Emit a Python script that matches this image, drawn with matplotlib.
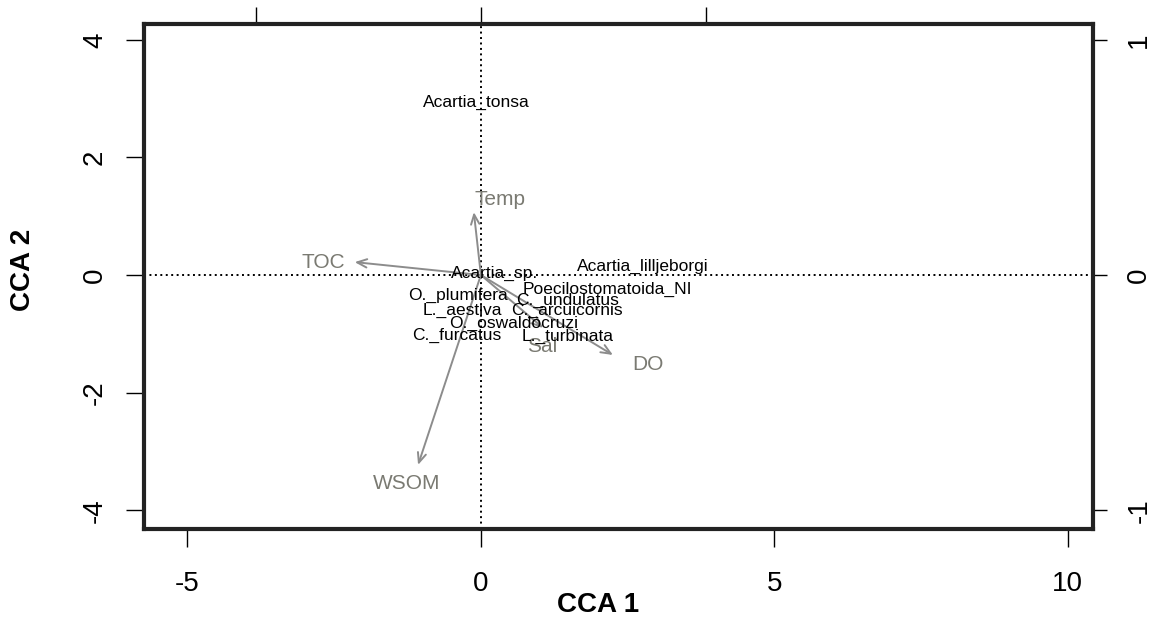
import numpy as np
import matplotlib.pyplot as plt

plt.rcParams['font.family'] = ['Liberation Sans', 'DejaVu Sans']
plt.rcParams['axes.unicode_minus'] = False

# species scores (CCA 1, CCA 2)
species = ['Acartia_tonsa', 'Acartia_sp.', 'Acartia_lilljeborgi', 'Poecilostomatoida_NI',
           'O._plumifera', 'C._undulatus', 'L._aestiva', 'C._arcuicornis',
           'O._oswaldocruzi', 'C._furcatus', 'L._turbinata']
sp_x = [-0.07, 0.24, 2.76, 2.15, -0.39, 1.47, -0.31, 1.47, 0.55, -0.41, 1.48]
sp_y = [2.94, 0.03, 0.14, -0.24, -0.34, -0.43, -0.61, -0.61, -0.82, -1.02, -1.04]

# environmental biplot arrows (already multiplied) and their label positions
env = ['TOC', 'Temp', 'WSOM', 'DO', 'Sal']
env_x = [-2.15, -0.12, -1.07, 2.25, 1.06]
env_y = [0.22, 1.07, -3.23, -1.36, -0.90]
lab_x = [-2.69, 0.32, -1.26, 2.85, 1.04]
lab_y = [0.22, 1.28, -3.54, -1.53, -1.22]

mul_top = 3.83
mul_right = 4.0

fig = plt.figure(figsize=(11.55, 6.21), dpi=100)
ax = fig.add_axes([144/1155, 1 - 529/621, (1093 - 144)/1155, (529 - 24)/621])
ax.set_xlim(-5.74, 10.43)
ax.set_ylim(-4.32, 4.27)

# origin cross
ax.axhline(0, color='black', lw=1.4, linestyle=(0, (1, 1.8)))
ax.axvline(0, color='black', lw=1.4, linestyle=(0, (1, 1.8)))

# arrows
for x, y in zip(env_x, env_y):
    ax.annotate('', xy=(x, y), xytext=(0, 0),
                arrowprops=dict(arrowstyle='->,head_length=0.7,head_width=0.3',
                                color='#8c8c8c', lw=1.4, shrinkA=0, shrinkB=0))
for name, x, y in zip(env, lab_x, lab_y):
    ax.text(x, y, name, color='#7a7a72', fontsize=15, ha='center', va='center')

for name, x, y in zip(species, sp_x, sp_y):
    ax.text(x, y, name, color='black', fontsize=12.5, ha='center', va='center')

# frame and axes
for s in ax.spines.values():
    s.set_linewidth(3)
    s.set_color('#222222')

ax.set_xticks([-5, 0, 5, 10])
ax.set_yticks([-4, -2, 0, 2, 4])
ax.tick_params(axis='x', length=13, width=1, labelsize=20, pad=17)
ax.tick_params(axis='y', length=13, width=1, labelsize=20, pad=13)
for lbl in ax.get_yticklabels():
    lbl.set_rotation(90)
    lbl.set_va('center')

top = ax.secondary_xaxis('top', functions=(lambda v: v / mul_top, lambda v: v * mul_top))
top.set_xticks([-1, 0, 1])
top.set_xticklabels([])
top.tick_params(length=12, width=1)
top.spines['top'].set_visible(False)

right = ax.secondary_yaxis('right', functions=(lambda v: v / mul_right, lambda v: v * mul_right))
right.set_yticks([-1, 0, 1])
right.tick_params(length=10, width=1, labelsize=20, pad=14)
right.spines['right'].set_visible(False)
for lbl in right.get_yticklabels():
    lbl.set_rotation(90)
    lbl.set_va('center')

fig.text(598/1155, 1 - 605/621, 'CCA 1', fontsize=20, fontweight='bold',
         ha='center', va='center')
fig.text(23/1155, 1 - 270/621, 'CCA 2', fontsize=20, fontweight='bold',
         ha='center', va='center', rotation=90)

fig.savefig('out.png', dpi=100)
